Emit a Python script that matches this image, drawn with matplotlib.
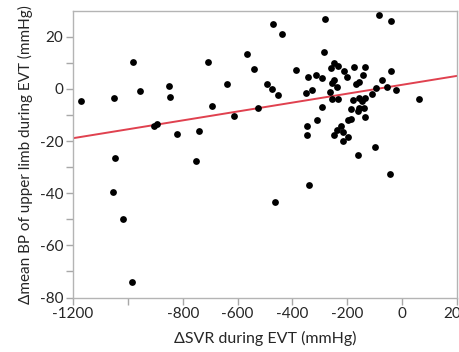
import matplotlib
matplotlib.use('Agg')
import matplotlib.pyplot as plt
import numpy as np

plt.rcParams['font.family'] = ['Lato', 'DejaVu Sans']

# Data
svr = [-1170, -1052, -982, -957, -850, -848, -903, -893, -822, -1048,
       -753, -739, -709, -694, -638, -614, -565, -539, -527,
       -472, -438, -282, -86, -40, -284,
       -494, -473, -451, -388, -344, -351, -329, -314, -293,
       -260, -249, -234, -212, -201, -175, -137, -144, -159, -167,
       -250, -256, -239, -263, -254, -235, -293, -186, -178, -159,
       -146, -134, -159, -140, -110, -95, -73, -55, -42, -22, 63,
       -162, -137, -309, -348, -348, -199, -187, -222, -236, -217,
       -250, -199, -216, -100, -161,
       -464, -338, -46, -1054, -1016, -984]
bp = [-4.6, -3.4, 10.2, -0.9, 1.0, -3.0, -14.4, -13.4, -17.4, -26.5,
      -27.8, -16.0, 10.4, -6.7, 2.0, -10.3, 13.5, 7.8, -7.2,
      25.0, 21.0, 26.9, 28.3, 25.9, 14.2,
      2.0, 0.0, -2.3, 7.3, 4.6, -1.5, -0.5, 5.4, 4.1,
      8.0, 9.9, 8.8, 6.7, 4.4, 8.4, 8.4, 5.4, 2.8, 1.8,
      3.5, 2.2, 0.8, -1.0, -3.9, -3.9, -7.1, -7.7, -4.4, -3.3,
      -4.6, -3.3, -7.2, -7.5, -1.9, 0.3, 3.5, 0.7, 6.8, -0.5, -4.0,
      -8.5, -10.8, -12.1, -14.2, -17.5, -12.1, -11.7, -14.2, -15.8, -16.5,
      -17.8, -18.6, -20.1, -22.1, -25.5,
      -43.2, -36.9, -32.8, -39.6, -49.7, -73.9]

# regression line end points
fit_x = [-1200, 200]
fit_y = [-18.9, 5.0]

x_ticks = [-1200, -1000, -800, -600, -400, -200, 0, 200]
x_labels = ['-1200', '', '-800', '-600', '-400', '-200', '0', '200']
y_ticks = [-80, -60, -40, -20, 0, 20]

fig = plt.figure(figsize=(4.6, 3.52), dpi=100)
ax = fig.add_axes([0.1587, 0.1548, 0.8348, 0.8148])

ax.plot(fit_x, fit_y, color='#e0414f', lw=1.4, zorder=2)
ax.scatter(svr, bp, s=24, color='black', zorder=3, linewidths=0)

ax.set_xlim(-1200, 200)
ax.set_ylim(-80, 30)
ax.set_xticks(x_ticks)
ax.set_xticklabels(x_labels)
ax.set_yticks(y_ticks)
ax.set_yticklabels([str(t) for t in y_ticks])
ax.set_yticks(np.arange(-70, 30, 20), minor=True)

for s in ax.spines.values():
    s.set_color('#b4b4b4')
    s.set_linewidth(1.0)
ax.tick_params(which='both', direction='out', length=5, width=1,
               color='#a8a8a8', labelsize=11, labelcolor='#262626', pad=2)

ax.set_xlabel('ΔSVR during EVT (mmHg)', fontsize=11.5, color='#262626', labelpad=7)
ax.set_ylabel('Δmean BP of upper limb during EVT (mmHg)', fontsize=11,
              color='#262626', labelpad=5)

fig.savefig('out.png', dpi=100)
